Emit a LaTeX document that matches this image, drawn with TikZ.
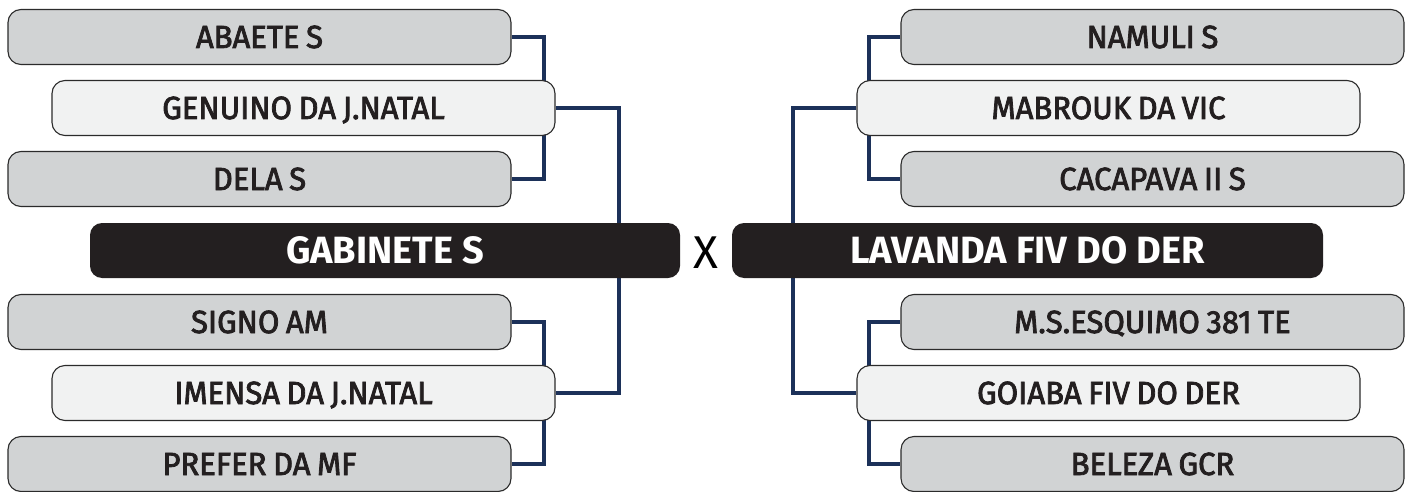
\documentclass[tikz,border=0pt]{standalone}
\usepackage{fontspec}
\setmainfont{Fira Sans}
\newfontfamily\cfont{Fira Sans}[FakeBold=2.5,FakeStretch=0.97,WordSpace=0.8]
\newfontfamily\hfont{Fira Sans}[WordSpace=0.6]
\newfontfamily\xfont{Fira Sans}
\usetikzlibrary{backgrounds}
\definecolor{ink}{HTML}{231F20}
\definecolor{edge}{HTML}{2B2B2B}
\definecolor{grayfill}{HTML}{D1D3D4}
\definecolor{lightfill}{HTML}{F1F2F2}
\definecolor{navy}{RGB}{28,49,89}
\begin{document}
\begin{tikzpicture}[x=1pt,y=-1pt,
  pbox/.style={draw=edge, line width=1.1pt, rounded corners=13pt, minimum width=503pt, minimum height=55pt, inner sep=0pt, text height=22pt, text depth=0pt, font=\cfont\fontsize{32}{32}\selectfont, text=ink},
  outerbox/.style={pbox, fill=grayfill},
  innerbox/.style={pbox, fill=lightfill},
  champ/.style={fill=ink, rounded corners=12pt, minimum height=55pt, inner sep=0pt, text height=26pt, text depth=0pt, text=white, font=\hfont\bfseries\fontsize{38}{38}\selectfont},
  link/.style={draw=navy, line width=4pt}]
\useasboundingbox (0,0) rectangle (1412,492);
% left side
\node[outerbox] (abaete) at (259.5,37) {ABAETE S};
\node[innerbox] (genuino) at (303.5,108) {GENUINO DA J.NATAL};
\node[outerbox] (dela) at (259.5,179) {DELA S};
\node[champ, minimum width=590pt] (gabinete) at (385,250.5) {GABINETE S};
\node[outerbox] (signo) at (259.5,322) {SIGNO AM};
\node[innerbox] (imensa) at (303.5,393) {IMENSA DA J.NATAL};
\node[outerbox] (prefer) at (259.5,464) {PREFER DA MF};
% right side
\node[outerbox] (namuli) at (1152.5,37) {NAMULI S};
\node[innerbox] (mabrouk) at (1108.5,108) {MABROUK DA VIC};
\node[outerbox] (cacapava) at (1152.5,179) {CACAPAVA II S};
\node[champ, minimum width=591pt] (lavanda) at (1027.5,250.5) {LAVANDA FIV DO DER};
\node[outerbox] (esquimo) at (1152.5,322) {M.S.ESQUIMO 381 TE};
\node[innerbox] (goiaba) at (1108.5,393) {GOIABA FIV DO DER};
\node[outerbox] (beleza) at (1152.5,464) {BELEZA GCR};
% versus
\node[inner sep=0pt, text height=32pt, text depth=0pt, text=black, font=\xfont\fontsize{46}{46}\selectfont] (versus) at (706,252.5) {X};
\begin{scope}[on background layer]
\draw[link] (abaete.east) -- ++(32,0) |- (dela.east);
\draw[link] (genuino.east) -- ++(63,0) |- (imensa.east);
\draw[link] (signo.east) -- ++(32,0) |- (prefer.east);
\draw[link] (namuli.west) -- ++(-31,0) |- (cacapava.west);
\draw[link] (mabrouk.west) -- ++(-63,0) |- (goiaba.west);
\draw[link] (esquimo.west) -- ++(-31,0) |- (beleza.west);
\end{scope}
\end{tikzpicture}
\end{document}
